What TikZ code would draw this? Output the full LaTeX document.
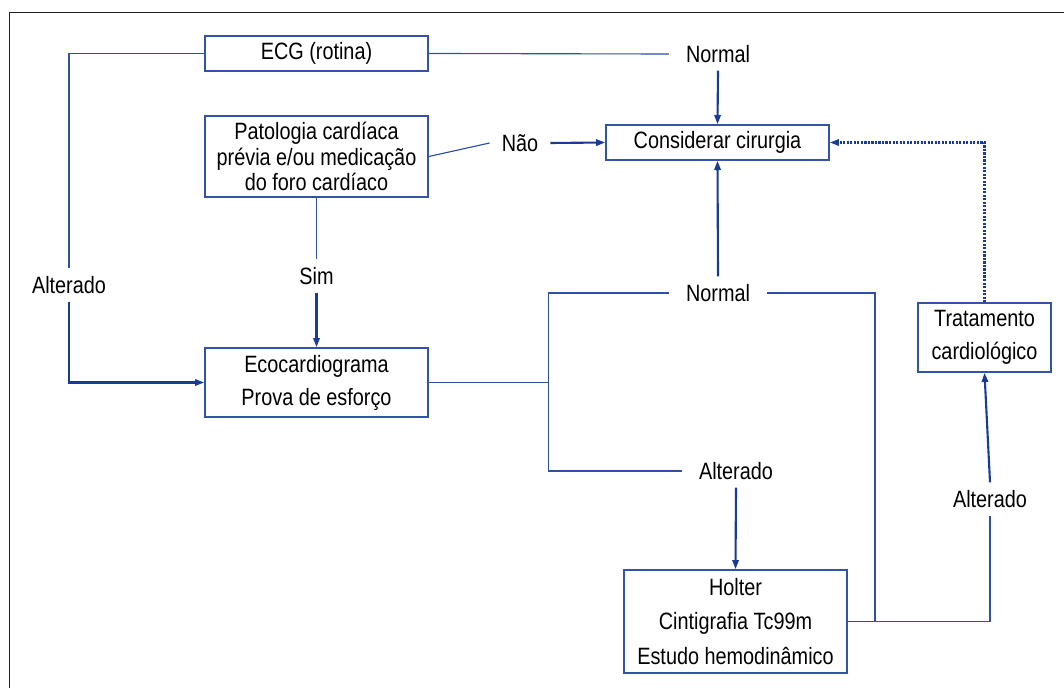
\documentclass[tikz,border=0pt]{standalone}
\usepackage{fontspec}
\setmainfont{Liberation Sans}[FakeStretch=0.84]
\usetikzlibrary{arrows.meta}
\definecolor{frame}{HTML}{202020}
\definecolor{boxedge}{HTML}{3353A8}
\definecolor{wirec}{HTML}{2E4FA8}
\definecolor{flowc}{HTML}{173B96}

\begin{document}
\begin{tikzpicture}[x=0.025cm,y=-0.025cm,font=\fontsize{16.8}{18}\selectfont,
  box/.style={draw=boxedge,line width=1.1pt,fill=white,align=center,inner sep=0pt},
  lbl/.style={inner xsep=12pt,inner ysep=5.5pt},
  wire/.style={line width=0.8pt,wirec},
  flow/.style={-{Triangle[length=6.5pt,width=4.5pt]},line width=1.5pt,flowc},
  back/.style={-{Triangle[length=6.5pt,width=4.5pt]},line width=1.5pt,flowc,densely dotted}]
  \useasboundingbox (0,0) rectangle (1064,688);
  \draw[frame,line width=1.4pt] (1064,12.5) -- (9.5,12.5) -- (9.5,688);

  % ===== boxes =====
  \node[box,minimum width=5.575cm,minimum height=0.875cm] (ecg) at (316.5,53.5) {ECG (rotina)};
  \node[box,minimum width=5.575cm,minimum height=2.025cm] (pat) at (316.5,156.5) {Patologia cardíaca\\prévia e/ou medicação\\do foro cardíaco};
  \node[box,minimum width=5.575cm,minimum height=1.725cm] (eco) at (316.5,382.5) {Ecocardiograma\\[5.5pt]Prova de esforço};
  \node[box,minimum width=5.575cm,minimum height=0.875cm] (cons) at (717.5,142.5) {Considerar cirurgia};
  \node[box,minimum width=5.575cm,minimum height=2.575cm] (holter) at (735.5,621.5) {Holter\\[6.5pt]Cintigrafia Tc99m\\[6.5pt]Estudo hemodinâmico};
  \node[box,minimum width=3.325cm,minimum height=1.725cm] (trat) at (984.5,337.5) {Tratamento\\[5.5pt]cardiológico};

  % ===== labels =====
  \node[lbl] (normA) at (718,54) {Normal};
  \node[lbl,inner xsep=8.5pt] (nao) at (520,143) {Não};
  \node[lbl] (altA) at (69,285) {Alterado};
  \node[lbl] (sim) at (316.5,276) {Sim};
  \node[lbl] (normB) at (718,293) {Normal};
  \node[lbl] (altB) at (736,471) {Alterado};
  \node[lbl] (altC) at (990,499) {Alterado};
  \coordinate (spl) at (548.5,382.5);
  \coordinate (hj) at (875,621.5);

  % ===== thin links =====
  \draw[wire] (ecg.west) -| (altA.north);
  \draw[wire] (ecg.east) -- (normA.west);
  \draw[wire] (pat.east) -- (nao.west);
  \draw[wire] (pat.south) -- (sim.north);
  \draw[wire,line width=1.1pt] (eco.east) -- (spl);
  \draw[wire] (spl) |- (normB.west);
  \draw[wire] (spl) |- (altB.west);
  \draw[wire] (holter.east) -| (altC.south);
  \draw[wire] (hj) |- (normB.east);

  % ===== arrows =====
  \draw[flow] (altA.south) |- (eco.west);
  \draw[flow] (normA.south) -- (cons.north);
  \draw[flow] (nao.east) -- (cons.west);
  \draw[flow] (sim.south) -- (eco.north);
  \draw[flow] (normB.north) -- (cons.south);
  \draw[flow] (altB.south) -- (holter.north);
  \draw[flow] (altC.north) -- (trat.south);
  \draw[back] (trat.north) |- (cons.east);
\end{tikzpicture}
\end{document}
